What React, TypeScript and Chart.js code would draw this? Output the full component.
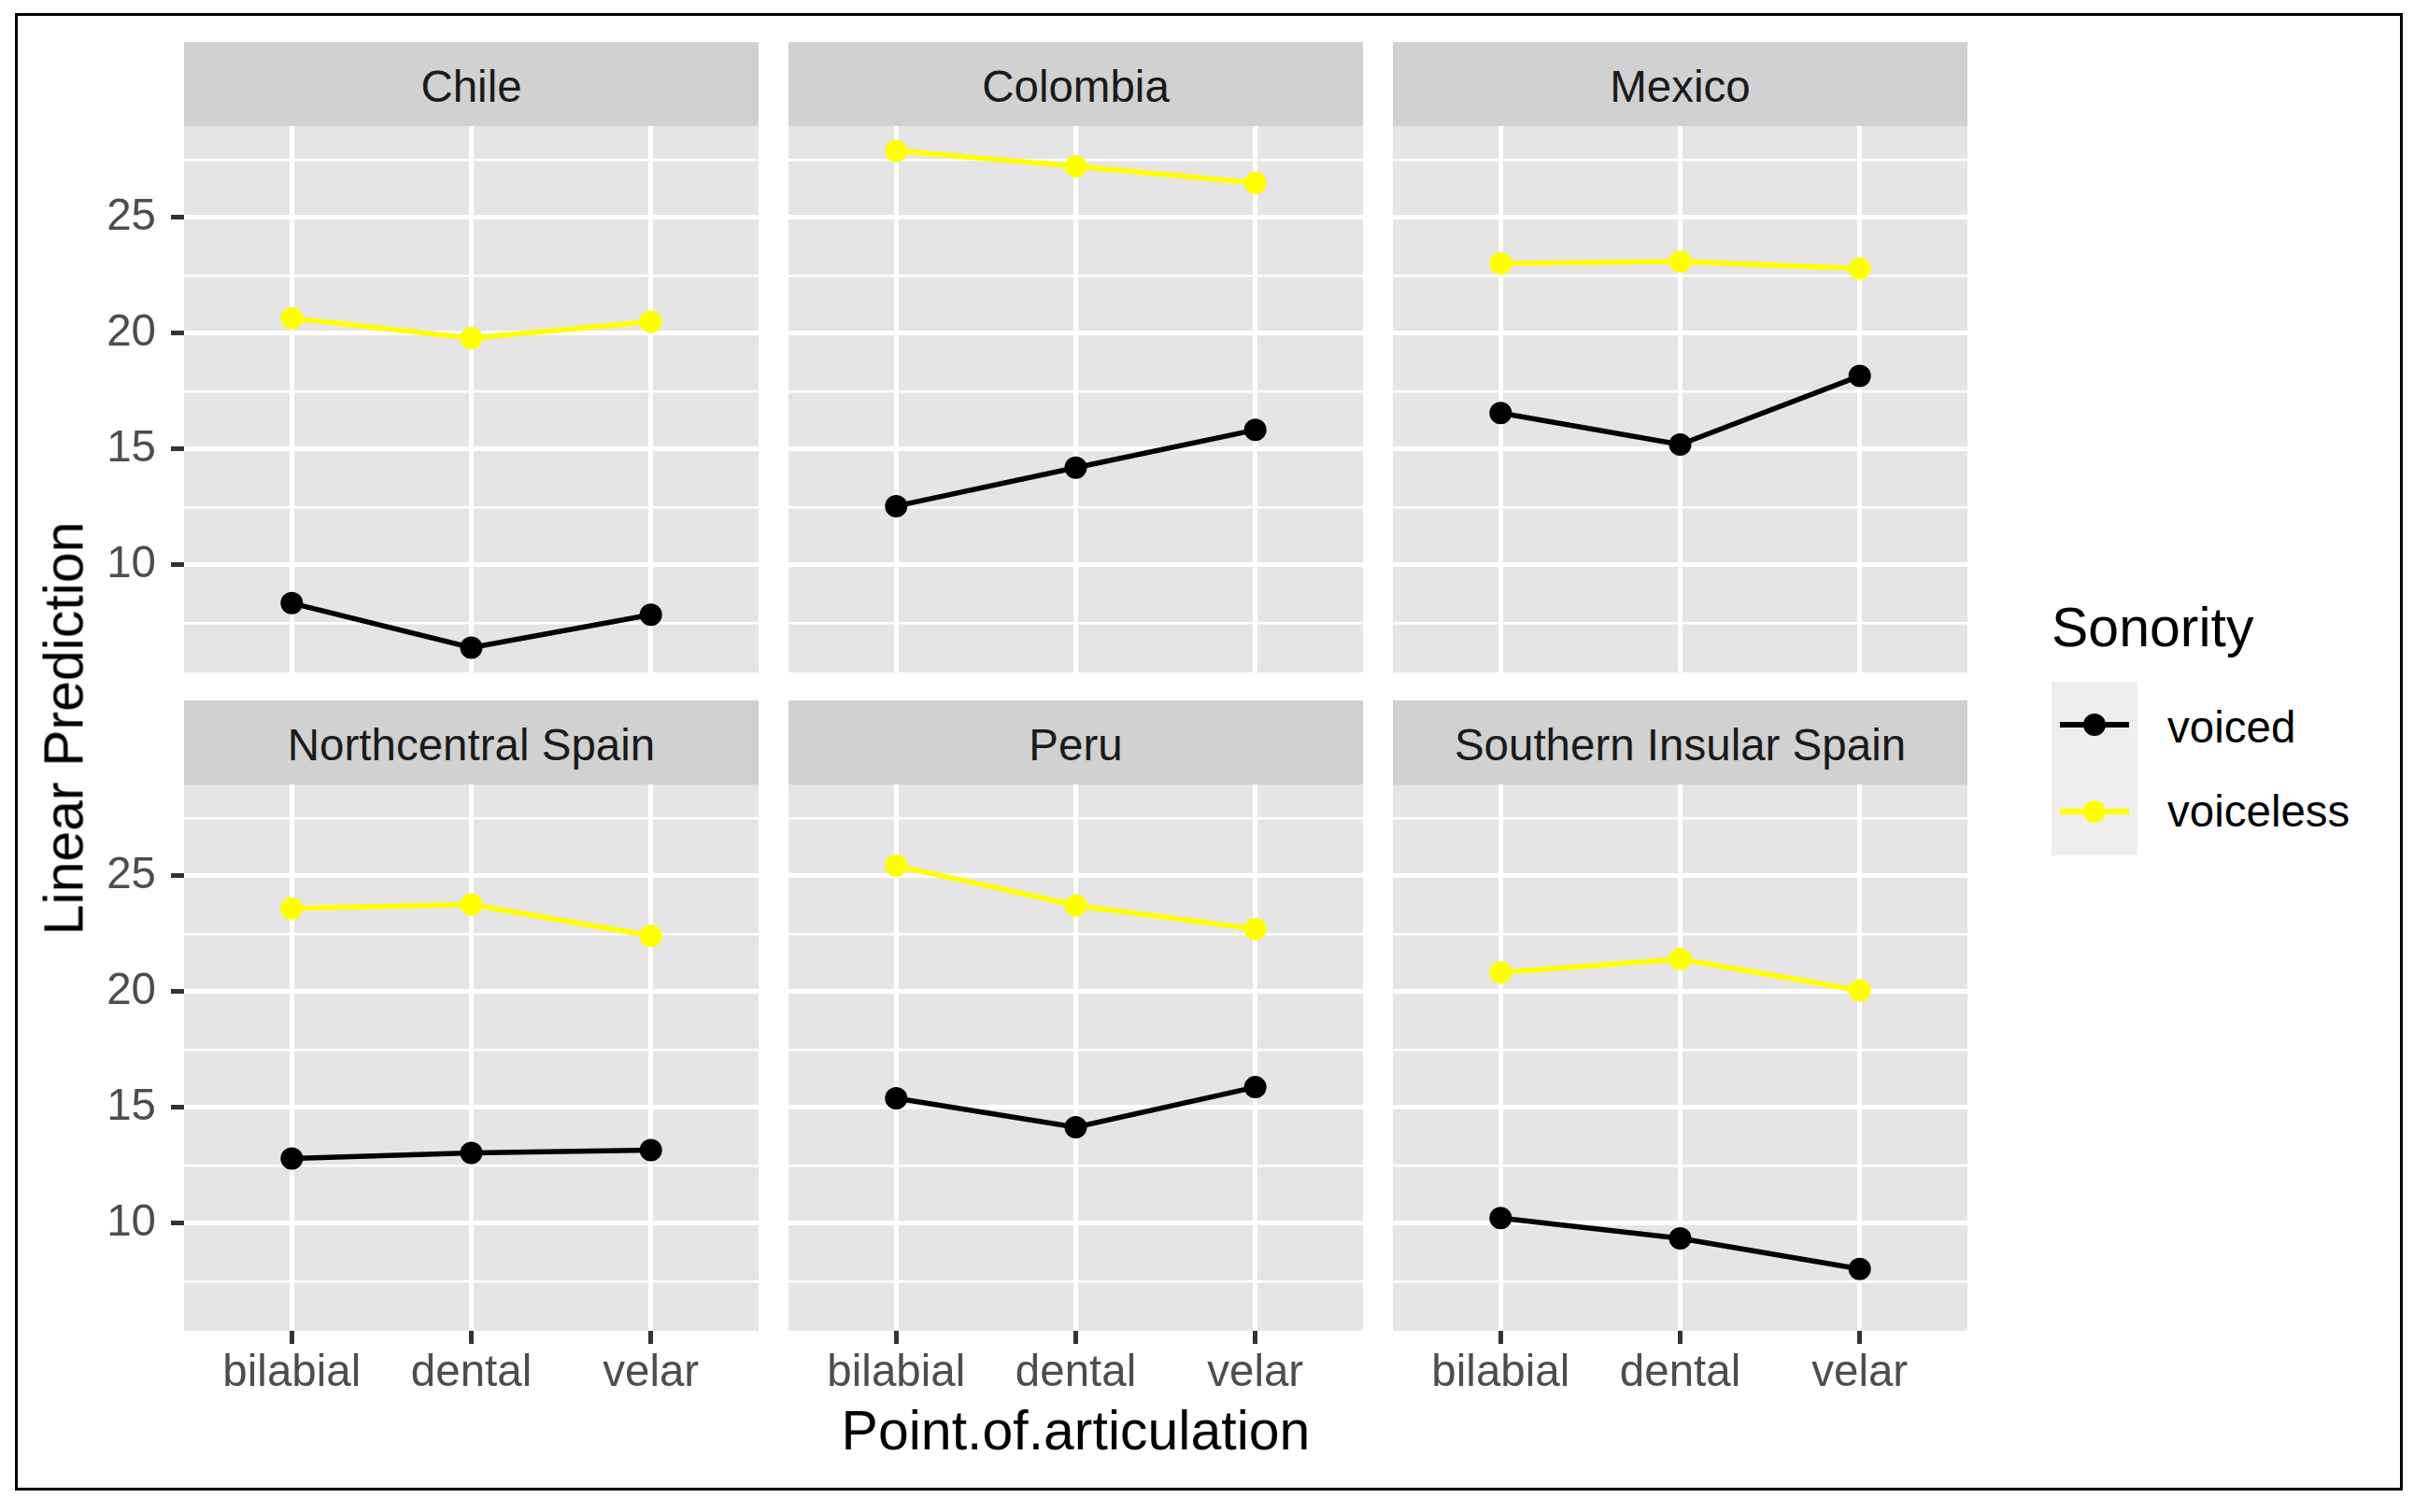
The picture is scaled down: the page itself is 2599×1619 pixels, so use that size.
import React, { useEffect, useRef } from 'react';
import { Chart, registerables } from 'chart.js';

Chart.register(...registerables);

// ---------- data ----------
const categories = ['bilabial', 'dental', 'velar'];
const regions = ['Chile', 'Colombia', 'Mexico', 'Northcentral Spain', 'Peru', 'Southern Insular Spain'];
const seriesNames = ['voiced', 'voiceless'];

const voicedChile = [8.35, 6.43, 7.85];
const voicelessChile = [20.65, 19.8, 20.5];
const voicedColombia = [12.54, 14.2, 15.83];
const voicelessColombia = [27.88, 27.22, 26.5];
const voicedMexico = [16.56, 15.2, 18.16];
const voicelessMexico = [23.02, 23.1, 22.8];
const voicedNorthcentral = [12.8, 13.04, 13.16];
const voicelessNorthcentral = [23.6, 23.77, 22.42];
const voicedPeru = [15.4, 14.15, 15.88];
const voicelessPeru = [25.45, 23.73, 22.71];
const voicedSouthern = [10.23, 9.35, 8.03];
const voicelessSouthern = [20.84, 21.41, 20.06];

const yMajorTicks = [10, 15, 20, 25];
const yMinorTicks = [7.5, 12.5, 17.5, 22.5, 27.5];

const voicedByRegion = [voicedChile, voicedColombia, voicedMexico, voicedNorthcentral, voicedPeru, voicedSouthern];
const voicelessByRegion = [voicelessChile, voicelessColombia, voicelessMexico, voicelessNorthcentral, voicelessPeru, voicelessSouthern];

// ggplot-like continuous expansion (5%)
const allValues = [...voicedByRegion.flat(), ...voicelessByRegion.flat()];
const dataMin = Math.min(...allValues);
const dataMax = Math.max(...allValues);
const yPad = (dataMax - dataMin) * 0.05;
const Y_MIN = dataMin - yPad;
const Y_MAX = dataMax + yPad;

// ---------- layout / style ----------
const FONT = "'Liberation Sans', Arial, Helvetica, sans-serif";
const COL_LEFT = [197, 844, 1491];
const PANEL_W = 615;
const STRIP_TOP = [45, 750];
const STRIP_H = 90;
const PANEL_H = 585;
const LEFT_CANVAS_X = 90;
const X_AXIS_H = 95;
const COLOR_VOICED = '#000000';
const COLOR_VOICELESS = '#FFFF00';
const PANEL_BG = '#E5E5E5';
const STRIP_BG = '#D1D1D1';
const KEY_BG = '#EEEEEE';
const SMALL = 47.5;
const BIG = 59;
const LINE_W = 5.5;

Chart.defaults.font.family = FONT;

const panelBg = {
  id: 'panelBg',
  beforeDraw(chart: any) {
    const { ctx, chartArea } = chart;
    if (!chartArea) return;
    ctx.save();
    ctx.fillStyle = PANEL_BG;
    ctx.fillRect(chartArea.left, chartArea.top, chartArea.right - chartArea.left, chartArea.bottom - chartArea.top);
    ctx.restore();
  },
};

const zeroPadding = (s: any) => {
  s.paddingTop = 0;
  s.paddingBottom = 0;
  s.paddingLeft = 0;
  s.paddingRight = 0;
};

function Panel({ idx }: { idx: number }) {
  const ref = useRef<HTMLCanvasElement | null>(null);
  const col = idx % 3;
  const row = Math.floor(idx / 3);
  const showY = col === 0;
  const showX = row === 1;

  useEffect(() => {
    if (!ref.current) return;
    const isMajor = (v: any) => yMajorTicks.includes(v);
    const mk = (label: string, values: number[], color: string) => ({
      label,
      data: values.map((v, i) => ({ x: i, y: v })),
      borderColor: color,
      backgroundColor: color,
      pointBackgroundColor: color,
      borderWidth: LINE_W,
      pointRadius: 12,
      pointBorderWidth: 0,
      tension: 0,
      fill: false,
      clip: false,
    });
    const chart = new Chart(ref.current, {
      type: 'line',
      data: {
        datasets: [
          mk(seriesNames[0], voicedByRegion[idx], COLOR_VOICED),
          mk(seriesNames[1], voicelessByRegion[idx], COLOR_VOICELESS),
        ],
      },
      options: {
        animation: false,
        responsive: true,
        maintainAspectRatio: false,
        events: [],
        layout: { padding: 0, autoPadding: false },
        plugins: {
          legend: { display: false },
          tooltip: { enabled: false },
          title: { display: false },
        },
        scales: {
          x: {
            type: 'linear',
            min: -0.6,
            max: 2.6,
            afterBuildTicks: (s: any) => {
              s.ticks = categories.map((_, i) => ({ value: i }));
            },
            afterFit: (s: any) => {
              s.height = showX ? X_AXIS_H : 0;
              zeroPadding(s);
            },
            ticks: {
              display: showX,
              autoSkip: false,
              maxRotation: 0,
              minRotation: 0,
              padding: 3,
              color: '#4D4D4D',
              font: { size: SMALL, family: FONT, lineHeight: 1.2 },
              callback: (v: any) => categories[v as number] ?? '',
            },
            grid: {
              color: '#FFFFFF',
              lineWidth: 5,
              drawTicks: showX,
              tickLength: 14,
              tickColor: '#333333',
              tickWidth: 5,
            },
            border: { display: false },
          },
          y: {
            type: 'linear',
            min: Y_MIN,
            max: Y_MAX,
            afterBuildTicks: (s: any) => {
              s.ticks = [...yMinorTicks, ...yMajorTicks].sort((a, b) => a - b).map((v) => ({ value: v }));
            },
            afterFit: (s: any) => {
              s.width = showY ? COL_LEFT[0] - LEFT_CANVAS_X : 0;
              zeroPadding(s);
            },
            ticks: {
              display: showY,
              autoSkip: false,
              padding: 16,
              color: '#4D4D4D',
              font: { size: SMALL, family: FONT },
              callback: (v: any) => (isMajor(v) ? String(v) : ''),
            },
            grid: {
              color: '#FFFFFF',
              lineWidth: (c: any) => (isMajor(c.tick?.value) ? 5 : 2.5),
              drawTicks: showY,
              tickLength: 14,
              tickColor: (c: any) => (isMajor(c.tick?.value) ? '#333333' : 'rgba(0,0,0,0)'),
              tickWidth: 5,
            },
            border: { display: false },
          },
        },
      } as any,
      plugins: [panelBg],
    });
    return () => chart.destroy();
  }, [idx]);

  const left = showY ? LEFT_CANVAS_X : COL_LEFT[col];
  const width = showY ? COL_LEFT[0] + PANEL_W - LEFT_CANVAS_X : PANEL_W;
  const top = STRIP_TOP[row] + STRIP_H;
  const height = showX ? PANEL_H + X_AXIS_H : PANEL_H;

  return (
    <>
      <div
        style={{
          position: 'absolute',
          left: COL_LEFT[col],
          top: STRIP_TOP[row],
          width: PANEL_W,
          height: STRIP_H,
          background: STRIP_BG,
          display: 'flex',
          alignItems: 'center',
          justifyContent: 'center',
          fontSize: SMALL,
          lineHeight: 1,
          color: '#1A1A1A',
          paddingTop: 6,
          boxSizing: 'border-box',
          whiteSpace: 'nowrap',
        }}
      >
        {regions[idx]}
      </div>
      <div style={{ position: 'absolute', left, top, width, height }}>
        <canvas ref={ref} />
      </div>
    </>
  );
}

function LegendKey({ color, y }: { color: string; y: number }) {
  return (
    <>
      <div
        style={{
          position: 'absolute',
          left: 2205,
          top: y - 3,
          width: 74,
          height: 6,
          background: color,
        }}
      />
      <div
        style={{
          position: 'absolute',
          left: 2242 - 12,
          top: y - 12,
          width: 24,
          height: 24,
          borderRadius: '50%',
          background: color,
        }}
      />
    </>
  );
}

export default function App() {
  return (
    <div
      style={{
        position: 'absolute',
        left: 0,
        top: 0,
        width: 2599,
        height: 1619,
        background: '#FFFFFF',
        fontFamily: FONT,
        overflow: 'hidden',
      }}
    >
      {/* outer frame */}
      <div
        style={{
          position: 'absolute',
          left: 16,
          top: 14,
          width: 2556,
          height: 1582,
          border: '3px solid #000',
          boxSizing: 'border-box',
        }}
      />
      {regions.map((_, i) => (
        <Panel key={i} idx={i} />
      ))}
      {/* y axis title */}
      <div
        style={{
          position: 'absolute',
          left: 69,
          top: 780,
          transform: 'translate(-50%, -50%) rotate(-90deg)',
          fontSize: BIG,
          lineHeight: 1,
          color: '#000',
          whiteSpace: 'nowrap',
        }}
      >
        Linear Prediction
      </div>
      {/* x axis title */}
      <div
        style={{
          position: 'absolute',
          left: COL_LEFT[0],
          top: 1503,
          width: COL_LEFT[2] + PANEL_W - COL_LEFT[0],
          textAlign: 'center',
          fontSize: BIG,
          lineHeight: 1,
          color: '#000',
          whiteSpace: 'nowrap',
        }}
      >
        Point.of.articulation
      </div>
      {/* legend */}
      <div
        style={{
          position: 'absolute',
          left: 2196,
          top: 643,
          fontSize: BIG,
          lineHeight: 1,
          color: '#000',
          whiteSpace: 'nowrap',
        }}
      >
        Sonority
      </div>
      <div
        style={{
          position: 'absolute',
          left: 2196,
          top: 730,
          width: 92,
          height: 186,
          background: KEY_BG,
        }}
      />
      <LegendKey color={COLOR_VOICED} y={776} />
      <LegendKey color={COLOR_VOICELESS} y={869} />
      <div style={{ position: 'absolute', left: 2320, top: 755, fontSize: SMALL, lineHeight: 1, color: '#000', whiteSpace: 'nowrap' }}>
        {seriesNames[0]}
      </div>
      <div style={{ position: 'absolute', left: 2320, top: 845, fontSize: SMALL, lineHeight: 1, color: '#000', whiteSpace: 'nowrap' }}>
        {seriesNames[1]}
      </div>
    </div>
  );
}
